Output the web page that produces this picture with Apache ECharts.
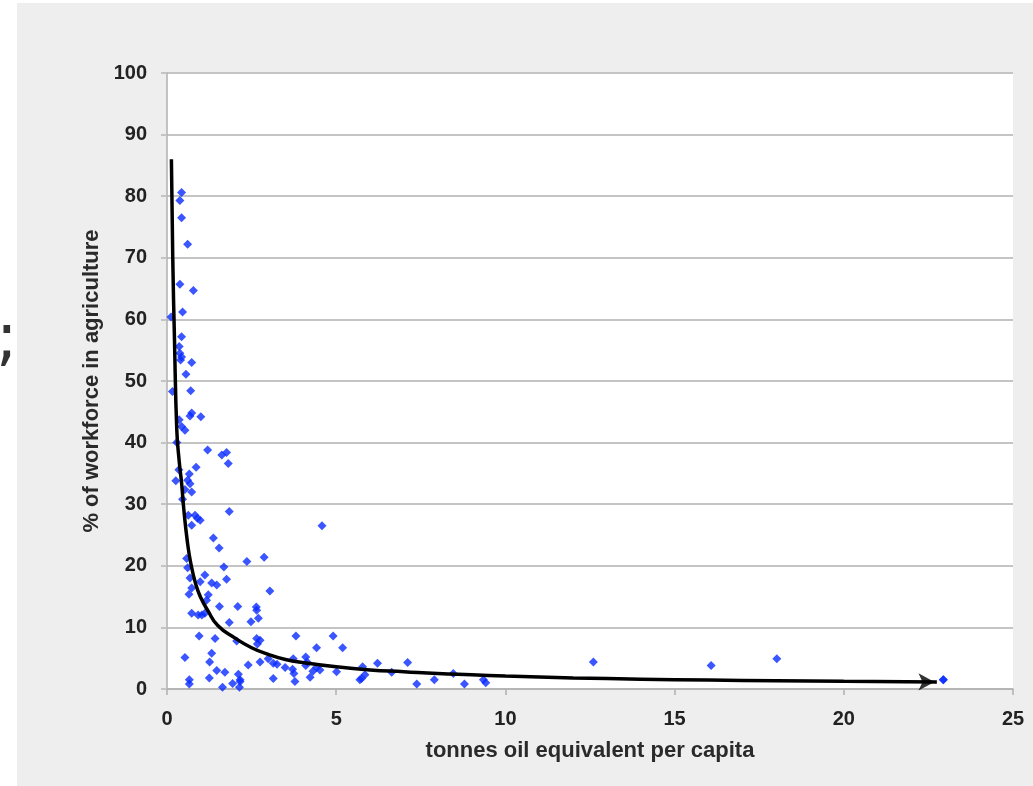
<!DOCTYPE html>
<html>
<head>
<meta charset="utf-8">
<script src="https://cdn.jsdelivr.net/npm/echarts@6/dist/echarts.min.js"></script>
<style>
html,body{margin:0;padding:0;background:#ffffff;}
#chart{width:1033px;height:786px;}
</style>
</head>
<body>
<div id="chart"></div>
<script>
// x: tonnes oil equivalent per capita, y: % of workforce in agriculture
const countryPoints = [
  [0.43,80.6],[0.38,79.3],[0.43,76.5],[0.61,72.2],[0.38,65.7],[0.78,64.7],[0.46,61.2],[0.12,60.4],
  [0.43,57.2],[0.36,55.6],[0.38,54.5],[0.43,53.9],[0.40,53.4],[0.73,53.0],[0.56,51.1],[0.16,48.3],
  [0.70,48.4],[0.73,44.8],[0.68,44.3],[1.00,44.2],[0.36,43.7],[0.43,42.6],[0.53,42.0],[0.29,40.0],
  [1.20,38.8],[1.62,38.0],[1.76,38.4],[1.81,36.6],[0.86,36.0],[0.35,35.6],[0.66,34.9],[0.61,33.9],
  [0.26,33.8],[0.68,33.3],[0.53,32.4],[0.73,32.0],[0.46,30.8],[1.84,28.8],[0.63,28.2],[0.83,28.2],
  [0.90,27.7],[0.98,27.4],[0.73,26.6],[4.58,26.5],
  [1.37,24.5],[1.54,22.9],[0.58,21.2],[0.61,19.7],[2.36,20.7],[2.87,21.4],[1.68,19.8],[1.12,18.5],
  [1.76,17.8],[0.68,18.0],[0.73,16.4],[0.65,15.4],[0.98,17.4],[1.32,17.2],[1.47,16.9],[1.22,15.3],
  [1.17,14.4],[3.04,15.9],[0.73,12.3],[0.92,12.0],[1.03,12.0],[1.12,12.3],[1.55,13.4],[2.09,13.4],
  [2.64,13.3],[2.65,12.8],[2.70,11.5],[2.48,10.9],[1.84,10.8],[0.95,8.6],[1.42,8.2],[2.06,7.8],
  [2.65,8.2],[2.75,7.9],[2.67,7.3],[3.81,8.6],[4.91,8.6],[5.19,6.7],[4.42,6.7],[0.53,5.1],
  [1.32,5.8],[1.26,4.4],[1.47,3.0],[1.71,2.7],[2.11,2.4],[2.16,1.5],[2.40,3.9],[2.75,4.4],
  [2.99,4.9],[3.14,4.2],[3.25,4.0],[3.49,3.5],[3.73,4.9],[3.71,3.2],[3.75,2.5],[3.78,1.2],
  [4.10,5.2],[4.14,4.4],[4.10,3.8],[4.23,1.9],[4.31,2.9],[4.42,3.5],[4.52,3.1],[5.01,2.8],
  [0.66,1.5],[0.66,0.8],[1.25,1.8],[1.64,0.3],[1.94,0.9],[2.16,1.2],[2.14,0.3],[3.14,1.7],
  [5.78,3.6],[5.85,2.3],[5.70,1.5],[5.75,1.7],[6.22,4.2],[6.64,2.7],[7.11,4.3],[7.38,0.8],
  [7.90,1.5],[8.46,2.5],[8.79,0.8],[9.35,1.5],[9.42,1.0],
  [12.60,4.4],[16.08,3.8],[18.02,4.9],[22.94,1.5]
];
// hand-drawn trend curve
const trendCurve = [
  [0.13,86],[0.17,70],[0.22,57],[0.29,42],[0.36,37],[0.43,33.5],[0.5,29],[0.6,24],[0.7,20.5],
  [0.85,17],[1.0,14.8],[1.2,12.8],[1.5,10.3],[2.0,8.3],[2.5,6.7],[3.0,5.6],[3.5,4.8],[4.0,4.3],
  [5.0,3.6],[6,3.1],[7,2.8],[8,2.5],[9,2.3],[10,2.1],[12,1.8],[14,1.6],[16,1.45],[18,1.35],
  [20,1.25],[22.75,1.15]
];
const arrowTip = [[22.68,1.15]];
const xTicks = {min:0, max:25, interval:5};
const yTicks = {min:0, max:100, interval:10};
const xAxisTitle = 'tonnes oil equivalent per capita';
const yAxisTitle = '% of workforce in agriculture';

const chart = echarts.init(document.getElementById('chart'));
const labelFont = {fontFamily:'Liberation Sans', fontWeight:'bold', fontSize:20, color:'#222'};
const nameFont = {fontFamily:'Liberation Sans', fontWeight:'bold', fontSize:22, color:'#2a2a2a'};
chart.setOption({
  animation:false,
  backgroundColor:'#ffffff',
  graphic:[
    {type:'rect', z:-10, shape:{x:17, y:3, width:1016, height:783}, style:{fill:'#eeeeee'}},
    {type:'text', z:5, left:-4, top:310, style:{text:';', font:'64px "DejaVu Sans"', fill:'#333333'}}
  ],
  grid:{left:167, right:20, top:73, bottom:97, show:true, backgroundColor:'#ffffff', borderWidth:0},
  xAxis:{
    type:'value', min:xTicks.min, max:xTicks.max, interval:xTicks.interval,
    name:xAxisTitle, nameLocation:'middle', nameGap:51,
    nameTextStyle:nameFont,
    axisLine:{show:true, lineStyle:{color:'#b0b0b0', width:1.5}},
    axisTick:{show:true, length:6, lineStyle:{color:'#b0b0b0', width:1.5}},
    axisLabel:Object.assign({margin:20}, labelFont),
    splitLine:{show:false}
  },
  yAxis:{
    type:'value', min:yTicks.min, max:yTicks.max, interval:yTicks.interval,
    name:yAxisTitle, nameLocation:'middle', nameGap:64,
    nameTextStyle:nameFont,
    axisLine:{show:true, lineStyle:{color:'#b0b0b0', width:1.5}},
    axisTick:{show:true, length:6, lineStyle:{color:'#c4c4c4', width:2}},
    axisLabel:Object.assign({margin:20}, labelFont),
    splitLine:{show:true, lineStyle:{color:'#c4c4c4', width:2}}
  },
  series:[
    {type:'scatter', data:countryPoints, symbol:'diamond', symbolSize:9,
     itemStyle:{color:'#0a2cff'}, z:2},
    {type:'line', data:trendCurve, showSymbol:false, smooth:true,
     lineStyle:{color:'#000000', width:3.5}, z:3},
    {type:'scatter', data:arrowTip, symbol:'arrow', symbolSize:[13,16], symbolRotate:-90,
     itemStyle:{color:'#000000'}, z:4},
    {type:'scatter', data:[countryPoints[countryPoints.length-1]], symbol:'diamond', symbolSize:9,
     itemStyle:{color:'#0a2cff'}, z:5}
  ]
});
</script>
</body>
</html>
